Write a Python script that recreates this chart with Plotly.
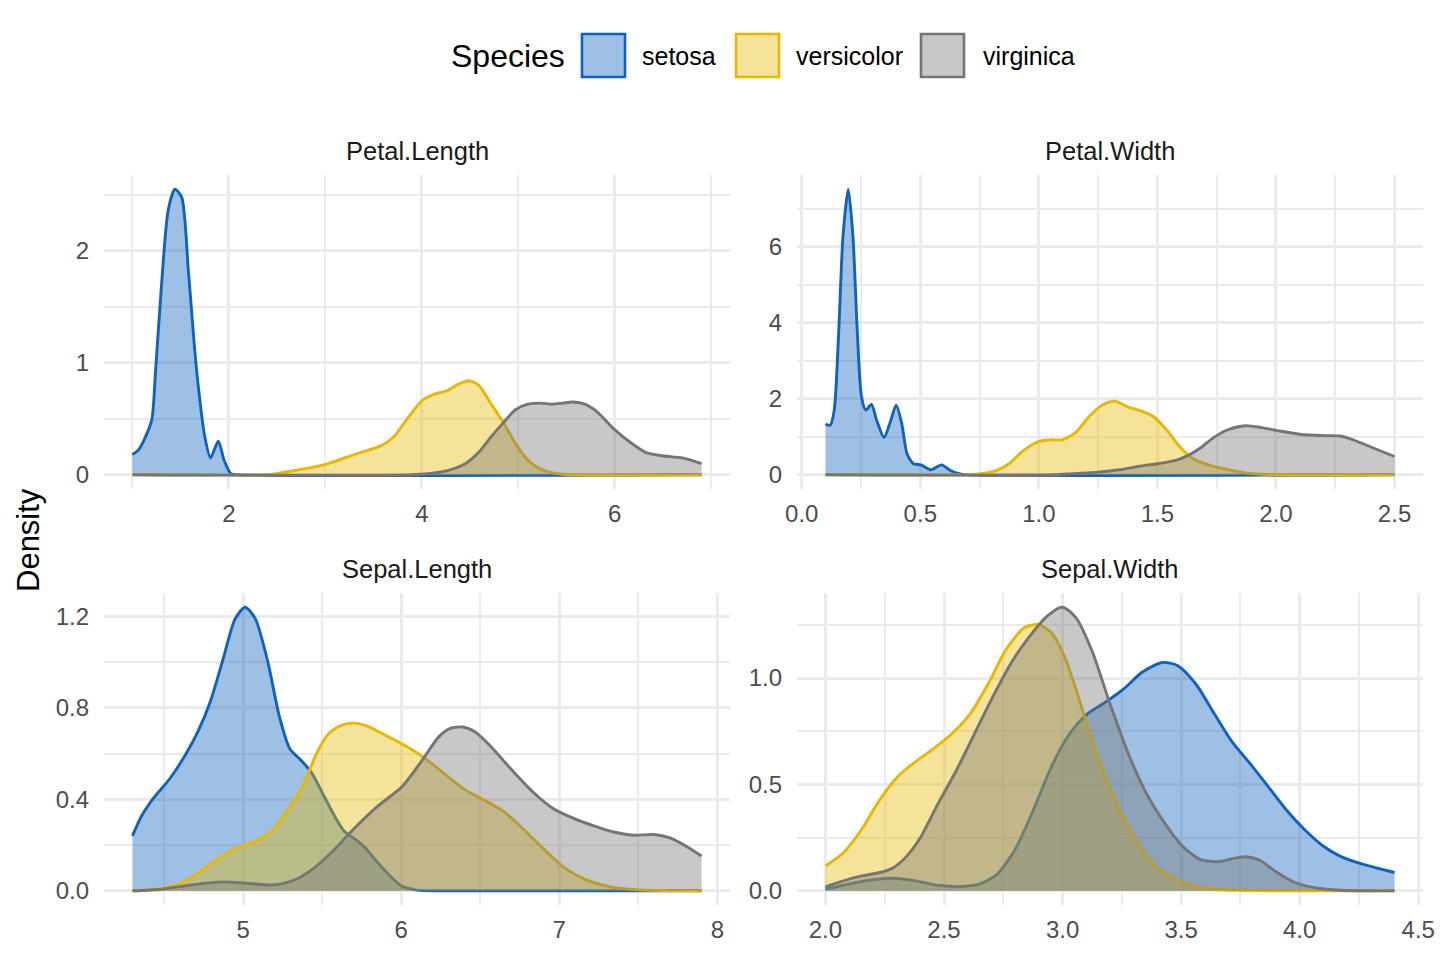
import plotly.graph_objects as go

# ---------------- data ----------------
SPECIES = ["setosa", "versicolor", "virginica"]
PANELS = ["Petal.Length", "Petal.Width", "Sepal.Length", "Sepal.Width"]

# Petal.Length
PL_SETOSA_X = [1.0, 1.06, 1.12, 1.2, 1.24, 1.30, 1.37, 1.44, 1.51, 1.58, 1.64, 1.68, 1.75, 1.81, 1.89, 1.95, 2.02, 2.1, 6.9]
PL_SETOSA_Y = [0.18, 0.22, 0.31, 0.49, 0.93, 1.68, 2.36, 2.55, 2.48, 1.82, 1.17, 0.81, 0.34, 0.15, 0.30, 0.13, 0.01, 0, 0]
PL_VERSI_X = [1.0, 2.4, 2.49, 2.70, 2.99, 3.20, 3.37, 3.58, 3.71, 3.84, 4.00, 4.13, 4.26, 4.38, 4.49, 4.59, 4.72, 4.85, 4.97, 5.10, 5.23, 5.40, 5.6, 6.9]
PL_VERSI_Y = [0, 0, 0.01, 0.04, 0.09, 0.15, 0.20, 0.26, 0.34, 0.49, 0.66, 0.72, 0.75, 0.81, 0.84, 0.80, 0.63, 0.46, 0.28, 0.13, 0.05, 0.01, 0, 0]
PL_VIRG_X = [1.0, 3.9, 4.13, 4.30, 4.47, 4.59, 4.72, 4.85, 4.97, 5.10, 5.23, 5.35, 5.46, 5.57, 5.69, 5.82, 5.99, 6.16, 6.32, 6.49, 6.70, 6.9]
PL_VIRG_Y = [0, 0, 0.015, 0.045, 0.11, 0.20, 0.34, 0.47, 0.58, 0.63, 0.64, 0.63, 0.64, 0.65, 0.63, 0.56, 0.41, 0.29, 0.20, 0.17, 0.15, 0.10]

# Petal.Width
PW_SETOSA_X = [0.10, 0.12, 0.137, 0.155, 0.174, 0.196, 0.216, 0.234, 0.252, 0.27, 0.294, 0.316, 0.347, 0.371, 0.398, 0.422, 0.444, 0.471, 0.503, 0.545, 0.59, 0.627, 0.663, 0.70, 2.5]
PW_SETOSA_Y = [1.33, 1.30, 1.70, 3.63, 6.27, 7.51, 6.27, 3.80, 2.05, 1.70, 1.85, 1.43, 0.98, 1.34, 1.83, 1.34, 0.55, 0.29, 0.26, 0.13, 0.26, 0.11, 0.03, 0, 0]
PW_VERSI_X = [0.1, 0.70, 0.755, 0.82, 0.874, 0.928, 0.992, 1.047, 1.10, 1.157, 1.21, 1.266, 1.32, 1.376, 1.43, 1.486, 1.54, 1.595, 1.65, 1.72, 1.80, 1.87, 1.96, 2.02, 2.5]
PW_VERSI_Y = [0, 0, 0.03, 0.11, 0.29, 0.60, 0.86, 0.92, 0.92, 1.12, 1.52, 1.83, 1.94, 1.78, 1.68, 1.52, 1.17, 0.73, 0.42, 0.25, 0.13, 0.05, 0.01, 0, 0]
PW_VIRG_X = [0.1, 1.065, 1.14, 1.25, 1.34, 1.43, 1.50, 1.577, 1.63, 1.687, 1.74, 1.80, 1.87, 1.94, 2.016, 2.107, 2.198, 2.27, 2.326, 2.40, 2.50]
PW_VIRG_Y = [0, 0, 0.03, 0.07, 0.13, 0.23, 0.29, 0.38, 0.51, 0.73, 0.99, 1.19, 1.29, 1.24, 1.15, 1.06, 1.03, 1.02, 0.92, 0.73, 0.48]

# Sepal.Length
SL_SETOSA_X = [4.30, 4.356, 4.433, 4.536, 4.64, 4.717, 4.794, 4.87, 4.95, 5.013, 5.077, 5.155, 5.23, 5.296, 5.36, 5.43, 5.50, 5.58, 5.64, 5.70, 5.77, 5.85, 5.93, 6.00, 6.10, 6.25, 7.9]
SL_SETOSA_Y = [0.24, 0.325, 0.405, 0.49, 0.60, 0.70, 0.83, 1.005, 1.19, 1.24, 1.19, 1.005, 0.76, 0.62, 0.575, 0.52, 0.43, 0.325, 0.26, 0.23, 0.19, 0.125, 0.065, 0.022, 0.003, 0, 0]
SL_VERSI_X = [4.30, 4.433, 4.56, 4.69, 4.82, 4.95, 5.077, 5.18, 5.283, 5.386, 5.464, 5.54, 5.62, 5.708, 5.80, 5.90, 6.004, 6.133, 6.26, 6.39, 6.52, 6.648, 6.777, 6.906, 7.034, 7.163, 7.32, 7.50, 7.7, 7.9]
SL_VERSI_Y = [0.0, 0.007, 0.022, 0.065, 0.13, 0.184, 0.217, 0.26, 0.354, 0.47, 0.60, 0.687, 0.723, 0.733, 0.716, 0.68, 0.643, 0.588, 0.52, 0.448, 0.398, 0.347, 0.267, 0.18, 0.10, 0.05, 0.017, 0.004, 0.001, 0]
SL_VIRG_X = [4.30, 4.485, 4.665, 4.87, 5.026, 5.18, 5.31, 5.438, 5.567, 5.695, 5.85, 6.004, 6.133, 6.236, 6.313, 6.39, 6.468, 6.57, 6.70, 6.83, 6.958, 7.087, 7.215, 7.344, 7.472, 7.60, 7.70, 7.81, 7.90]
SL_VIRG_Y = [0.0, 0.007, 0.025, 0.039, 0.033, 0.025, 0.043, 0.094, 0.173, 0.267, 0.369, 0.455, 0.571, 0.672, 0.711, 0.716, 0.694, 0.629, 0.528, 0.434, 0.361, 0.318, 0.285, 0.257, 0.243, 0.246, 0.231, 0.192, 0.152]

# Sepal.Width
SW_SETOSA_X = [2.0, 2.095, 2.19, 2.286, 2.38, 2.476, 2.57, 2.648, 2.724, 2.80, 2.877, 2.953, 3.03, 3.105, 3.18, 3.258, 3.334, 3.42, 3.486, 3.562, 3.64, 3.715, 3.79, 3.867, 3.943, 4.02, 4.096, 4.17, 4.268, 4.40]
SW_SETOSA_Y = [0.008, 0.031, 0.051, 0.059, 0.047, 0.026, 0.02, 0.031, 0.078, 0.194, 0.381, 0.583, 0.739, 0.832, 0.886, 0.949, 1.026, 1.073, 1.058, 0.972, 0.832, 0.70, 0.599, 0.49, 0.381, 0.288, 0.213, 0.163, 0.124, 0.086]
SW_VERSI_X = [2.0, 2.076, 2.152, 2.229, 2.305, 2.38, 2.457, 2.534, 2.61, 2.686, 2.762, 2.838, 2.896, 2.953, 3.01, 3.067, 3.124, 3.18, 3.24, 3.315, 3.39, 3.486, 3.60, 3.734, 3.9, 4.40]
SW_VERSI_Y = [0.117, 0.179, 0.288, 0.428, 0.537, 0.607, 0.669, 0.739, 0.832, 0.972, 1.135, 1.236, 1.252, 1.213, 1.096, 0.91, 0.708, 0.537, 0.381, 0.226, 0.117, 0.047, 0.012, 0.002, 0, 0]
SW_VIRG_X = [2.0, 2.076, 2.152, 2.229, 2.286, 2.343, 2.40, 2.476, 2.553, 2.629, 2.705, 2.78, 2.857, 2.934, 3.0, 3.057, 3.124, 3.20, 3.277, 3.353, 3.43, 3.505, 3.58, 3.658, 3.715, 3.772, 3.83, 3.905, 3.98, 4.077, 4.17, 4.3, 4.40]
SW_VIRG_Y = [0.019, 0.047, 0.07, 0.086, 0.109, 0.163, 0.249, 0.412, 0.568, 0.739, 0.91, 1.065, 1.19, 1.29, 1.333, 1.283, 1.128, 0.879, 0.645, 0.459, 0.319, 0.21, 0.148, 0.137, 0.151, 0.16, 0.145, 0.086, 0.039, 0.012, 0.003, 0, 0]

# ---------------- styling ----------------
LINE_COLORS = ["#0F62BE", "#E7B800", "#757575"]
FILL_COLORS = ["rgba(15,98,190,0.4)", "rgba(231,184,0,0.4)", "rgba(117,117,117,0.4)"]
FONT = "Liberation Sans, Arial, Helvetica, sans-serif"
GRID = "#EBEBEB"
W, H = 1440, 960

panel_data = {
    "Petal.Length": [(PL_SETOSA_X, PL_SETOSA_Y), (PL_VERSI_X, PL_VERSI_Y), (PL_VIRG_X, PL_VIRG_Y)],
    "Petal.Width": [(PW_SETOSA_X, PW_SETOSA_Y), (PW_VERSI_X, PW_VERSI_Y), (PW_VIRG_X, PW_VIRG_Y)],
    "Sepal.Length": [(SL_SETOSA_X, SL_SETOSA_Y), (SL_VERSI_X, SL_VERSI_Y), (SL_VIRG_X, SL_VIRG_Y)],
    "Sepal.Width": [(SW_SETOSA_X, SW_SETOSA_Y), (SW_VERSI_X, SW_VERSI_Y), (SW_VIRG_X, SW_VIRG_Y)],
}

# pixel layout of panels (left, right, top, bottom)
panel_px = {
    "Petal.Length": (104, 730, 175, 489),
    "Petal.Width": (797, 1423, 175, 489),
    "Sepal.Length": (104, 730, 593, 905),
    "Sepal.Width": (797, 1423, 593, 905),
}
# (x major, x minor, x format, y major, y minor, y format)
panel_ticks = {
    "Petal.Length": (2, 1, "d", 1, 0.5, "d"),
    "Petal.Width": (0.5, 0.25, ".1f", 2, 1, "d"),
    "Sepal.Length": (1, 0.5, "d", 0.4, 0.2, ".1f"),
    "Sepal.Width": (0.5, 0.25, ".1f", 0.5, 0.25, ".1f"),
}

fig = go.Figure()
layout = dict(
    width=W, height=H,
    margin=dict(l=0, r=0, t=0, b=0, autoexpand=False),
    paper_bgcolor="white", plot_bgcolor="white",
    showlegend=False,
    font=dict(family=FONT, color="#4D4D4D", size=24),
)
annotations = []
shapes = []

for i, panel in enumerate(PANELS):
    k = "" if i == 0 else str(i + 1)
    xa, ya = "x" + k, "y" + k
    series = panel_data[panel]
    xmin = min(min(s[0]) for s in series)
    xmax = max(max(s[0]) for s in series)
    ymax = max(max(s[1]) for s in series)
    xspan = xmax - xmin
    for j, (xs, ys) in enumerate(series):
        fig.add_trace(go.Scatter(
            x=xs, y=ys, xaxis=xa, yaxis=ya, mode="lines",
            line=dict(color=LINE_COLORS[j], width=2.9, shape="spline", smoothing=0.7),
            fill="tozeroy", fillcolor=FILL_COLORS[j],
            name=SPECIES[j], hoverinfo="skip",
        ))
    l, r, t, b = panel_px[panel]
    xd, xm, xf, yd, ym, yf = panel_ticks[panel]
    layout["xaxis" + k] = dict(
        domain=[l / W, r / W], anchor=ya, automargin=False,
        range=[xmin - 0.05 * xspan, xmax + 0.05 * xspan],
        tick0=0, dtick=xd, tickformat=xf,
        showgrid=True, gridcolor=GRID, gridwidth=2.8,
        minor=dict(dtick=xm, tick0=0, showgrid=True, gridcolor=GRID, gridwidth=1.5, ticks=""),
        zeroline=False, showline=False, ticks="",
        ticklabelstandoff=8,
        tickfont=dict(size=24, color="#4D4D4D", family=FONT),
    )
    layout["yaxis" + k] = dict(
        domain=[1 - b / H, 1 - t / H], anchor=xa, automargin=False,
        range=[-0.05 * ymax, 1.05 * ymax],
        tick0=0, dtick=yd, tickformat=yf,
        showgrid=True, gridcolor=GRID, gridwidth=2.8,
        minor=dict(dtick=ym, tick0=0, showgrid=True, gridcolor=GRID, gridwidth=1.5, ticks=""),
        zeroline=False, showline=False, ticks="",
        ticklabelstandoff=14,
        tickfont=dict(size=24, color="#4D4D4D", family=FONT),
    )
    # strip label
    annotations.append(dict(
        text=panel, xref="paper", yref="paper",
        x=(l + r) / 2 / W, y=1 - (t - 24) / H,
        xanchor="center", yanchor="middle", showarrow=False,
        font=dict(size=25.5, color="#1A1A1A", family=FONT),
    ))

# y axis title
annotations.append(dict(
    text="Density", xref="paper", yref="paper", x=28 / W, y=1 - 540 / H,
    xanchor="center", yanchor="middle", textangle=-90, showarrow=False,
    font=dict(size=31, color="black", family=FONT),
))

# legend (drawn manually to reproduce the large keys)
annotations.append(dict(
    text="Species", xref="paper", yref="paper", x=449 / W, y=1 - 56 / H,
    xanchor="left", yanchor="middle", showarrow=False,
    font=dict(size=32, color="black", family=FONT),
))
key_left = [582, 736, 921]
label_left = [640, 794, 981]
for j, sp in enumerate(SPECIES):
    shapes.append(dict(
        type="rect", xref="paper", yref="paper",
        x0=key_left[j] / W, x1=(key_left[j] + 43) / W,
        y0=1 - 77 / H, y1=1 - 34 / H,
        line=dict(color=LINE_COLORS[j], width=2.6), fillcolor=FILL_COLORS[j],
    ))
    annotations.append(dict(
        text=sp, xref="paper", yref="paper", x=label_left[j] / W, y=1 - 56 / H,
        xanchor="left", yanchor="middle", showarrow=False,
        font=dict(size=25, color="black", family=FONT),
    ))

layout["annotations"] = annotations
layout["shapes"] = shapes
fig.update_layout(**layout)
fig.write_html("out.html")
